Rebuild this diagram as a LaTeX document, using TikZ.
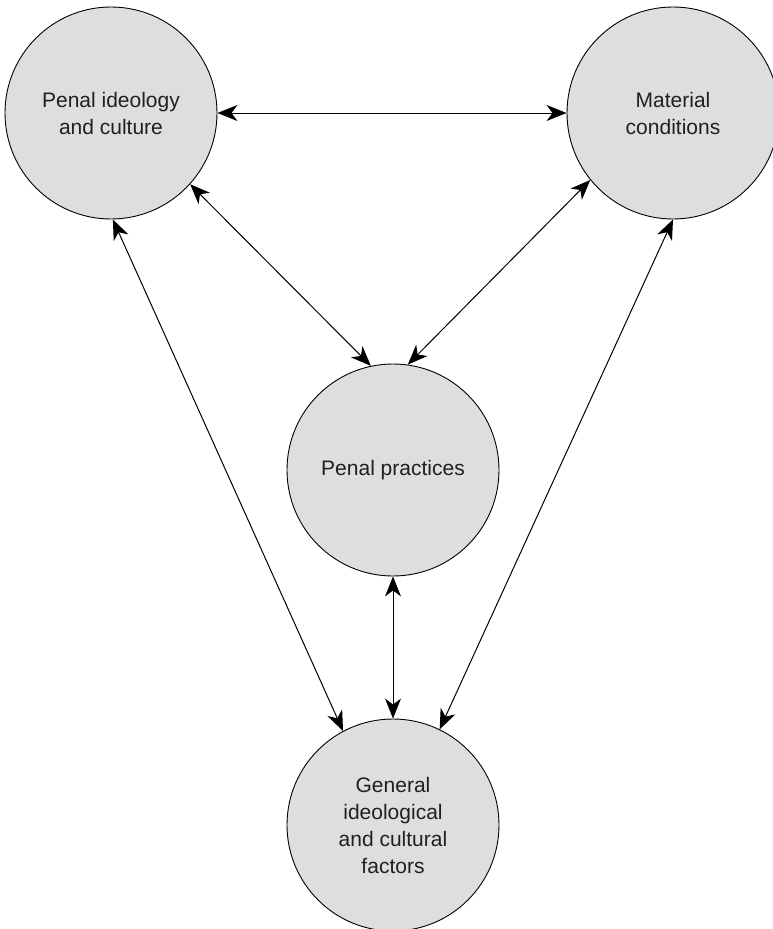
\documentclass[tikz,border=0pt]{standalone}
\usepackage{fontspec}
\setmainfont{Liberation Sans}
\usetikzlibrary{arrows.meta}
\definecolor{circfill}{RGB}{221,222,224}
\definecolor{txt}{RGB}{35,31,32}
\begin{document}
\begin{tikzpicture}[x=1pt,y=-1pt,
  bubble/.style={circle, draw=black, line width=0.9pt, fill=circfill,
    minimum size=212pt, inner sep=0pt, align=center, text=txt,
    font=\fontsize{21pt}{27pt}\selectfont},
  link/.style={line width=1pt, {Stealth[length=20pt,width=16pt,inset=6pt]}-{Stealth[length=20pt,width=16pt,inset=6pt]}}
]
\useasboundingbox (0,0) rectangle (773,929);
\node[bubble] (L) at (111,113) {Penal ideology\\and culture};
\node[bubble] (R) at (673,113) {Material\\conditions};
\node[bubble] (M) at (393,470) {Penal practices};
\node[bubble] (B) at (393,825) {General\\ideological\\and cultural\\factors};
\draw[link] (L.0) -- (R.180);
\draw[link] (L.-42) -- (M.102);
\draw[link] (R.-141) -- (M.82);
\draw[link] (L.-89) -- (B.118);
\draw[link] (R.-90) -- (B.64);
\draw[link] (M.-90) -- (B.90);
\end{tikzpicture}
\end{document}
